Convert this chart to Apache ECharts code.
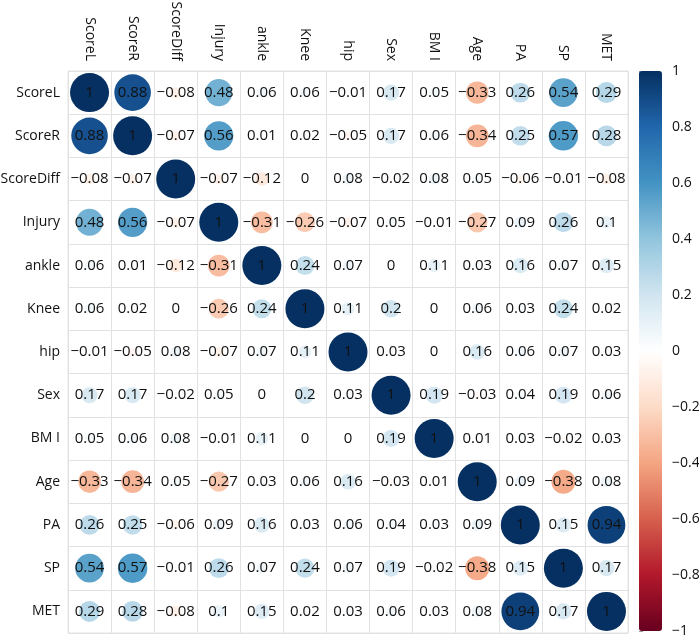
<!DOCTYPE html>
<html>
<head>
<meta charset="utf-8">
<script src="https://cdn.jsdelivr.net/npm/echarts@6/dist/echarts.min.js"></script>
<style>
  html, body { margin: 0; padding: 0; background: #fff; }
  #main { width: 699px; height: 639px; }
</style>
</head>
<body>
<div id="main"></div>
<script>
// variable names, top-to-bottom and left-to-right
var vars = ['ScoreL', 'ScoreR', 'ScoreDiff', 'Injury', 'ankle', 'Knee', 'hip', 'Sex', 'BM I', 'Age', 'PA', 'SP', 'MET'];

// correlation matrix, one row per variable
var corr = [
    [1, 0.88, -0.08, 0.48, 0.06, 0.06, -0.01, 0.17, 0.05, -0.33, 0.26, 0.54, 0.29],
    [0.88, 1, -0.07, 0.56, 0.01, 0.02, -0.05, 0.17, 0.06, -0.34, 0.25, 0.57, 0.28],
    [-0.08, -0.07, 1, -0.07, -0.12, 0, 0.08, -0.02, 0.08, 0.05, -0.06, -0.01, -0.08],
    [0.48, 0.56, -0.07, 1, -0.31, -0.26, -0.07, 0.05, -0.01, -0.27, 0.09, 0.26, 0.1],
    [0.06, 0.01, -0.12, -0.31, 1, 0.24, 0.07, 0, 0.11, 0.03, 0.16, 0.07, 0.15],
    [0.06, 0.02, 0, -0.26, 0.24, 1, 0.11, 0.2, 0, 0.06, 0.03, 0.24, 0.02],
    [-0.01, -0.05, 0.08, -0.07, 0.07, 0.11, 1, 0.03, 0, 0.16, 0.06, 0.07, 0.03],
    [0.17, 0.17, -0.02, 0.05, 0, 0.2, 0.03, 1, 0.19, -0.03, 0.04, 0.19, 0.06],
    [0.05, 0.06, 0.08, -0.01, 0.11, 0, 0, 0.19, 1, 0.01, 0.03, -0.02, 0.03],
    [-0.33, -0.34, 0.05, -0.27, 0.03, 0.06, 0.16, -0.03, 0.01, 1, 0.09, -0.38, 0.08],
    [0.26, 0.25, -0.06, 0.09, 0.16, 0.03, 0.06, 0.04, 0.03, 0.09, 1, 0.15, 0.94],
    [0.54, 0.57, -0.01, 0.26, 0.07, 0.24, 0.07, 0.19, -0.02, -0.38, 0.15, 1, 0.17],
    [0.29, 0.28, -0.08, 0.1, 0.15, 0.02, 0.03, 0.06, 0.03, 0.08, 0.94, 0.17, 1]
];

// colour legend range / ticks
var legendMin = -1;
var legendMax = 1;
var legendStep = 0.2;

// RdBu palette, low -> high
var palette = ['#67001F', '#B2182B', '#D6604D', '#F4A582', '#FDDBC7', '#FFFFFF',
               '#D1E5F0', '#92C5DE', '#4393C3', '#2166AC', '#053061'];

var FONT = '"Open Sans", "Noto Sans", sans-serif';

var points = [];
corr.forEach(function (row, i) {
    row.forEach(function (v, j) {
        points.push([j, i, v]);
    });
});

function fmt(v) {
    var s = String(Math.round(v * 100) / 100);
    return s.replace('-', '\u2212');
}

var chart = echarts.init(document.getElementById('main'));
chart.setOption({
    backgroundColor: '#fff',
    animation: false,
    textStyle: {fontFamily: FONT},
    grid: [
        {left: 68, top: 71, width: 560, height: 562, outerBoundsMode: 'none', containLabel: false,
         show: true, borderColor: '#e2e2e2', borderWidth: 1},
        {left: 639, top: 71, width: 23, height: 560, outerBoundsMode: 'none', containLabel: false}
    ],
    xAxis: [
        {
            type: 'category',
            gridIndex: 0,
            data: vars,
            position: 'top',
            axisLine: {show: false},
            axisTick: {show: false},
            splitLine: {show: true, lineStyle: {color: '#e2e2e2', width: 1}},
            axisLabel: {rotate: 90, margin: 10, color: '#111', fontSize: 14, fontFamily: FONT}
        },
        {
            type: 'value', gridIndex: 1, show: false
        }
    ],
    yAxis: [
        {
            type: 'category',
            gridIndex: 0,
            data: vars,
            inverse: true,
            axisLine: {show: false},
            axisTick: {show: false},
            splitLine: {show: true, lineStyle: {color: '#e2e2e2', width: 1}},
            axisLabel: {margin: 8, color: '#111', fontSize: 14, fontFamily: FONT}
        },
        {
            type: 'value',
            gridIndex: 1,
            position: 'right',
            min: legendMin,
            max: legendMax,
            interval: legendStep,
            axisLine: {show: false},
            axisTick: {show: true, length: 4, lineStyle: {color: '#999'}},
            splitLine: {show: false},
            axisLabel: {
                margin: 10, color: '#111', fontSize: 14, fontFamily: FONT,
                formatter: function (v) { return fmt(v); }
            }
        }
    ],
    visualMap: {
        type: 'continuous',
        seriesIndex: 0,
        dimension: 2,
        min: legendMin,
        max: legendMax,
        calculable: false,
        hoverLink: false,
        left: 639,
        top: 71,
        padding: 0,
        itemWidth: 23,
        itemHeight: 560,
        inRange: {color: palette}
    },
    series: [
        {
            type: 'scatter',
            xAxisIndex: 0,
            yAxisIndex: 0,
            data: points,
            symbol: 'circle',
            symbolSize: function (val) {
                return Math.max(0.001, 39 * Math.sqrt(Math.abs(val[2])));
            },
            itemStyle: {opacity: 1},
            label: {
                show: true,
                position: 'inside',
                color: '#111',
                fontSize: 15,
                fontFamily: FONT,
                formatter: function (p) { return fmt(p.value[2]); }
            },
            emphasis: {disabled: true}
        }
    ]
});
</script>
</body>
</html>
